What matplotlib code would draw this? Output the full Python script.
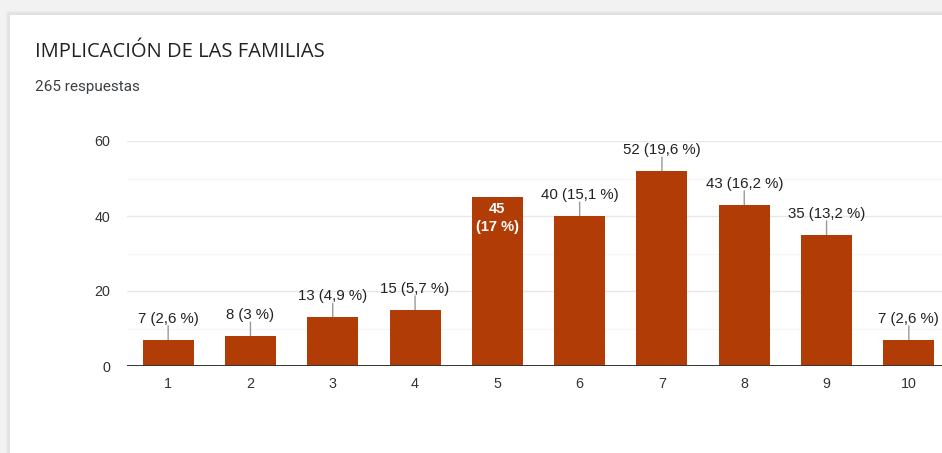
import matplotlib
matplotlib.use("Agg")
import matplotlib.pyplot as plt
from matplotlib.patches import Rectangle

categories = ["1", "2", "3", "4", "5", "6", "7", "8", "9", "10"]
counts = [7, 8, 13, 15, 45, 40, 52, 43, 35, 7]
percents = ["2,6", "3", "4,9", "5,7", "17", "15,1", "19,6", "16,2", "13,2", "2,6"]
yticks = [0, 20, 40, 60]
title = "IMPLICACIÓN DE LAS FAMILIAS"
subtitle = "265 respuestas"

plt.rcParams['font.family'] = ['Liberation Sans', 'DejaVu Sans']

W, H = 942, 453
fig = plt.figure(figsize=(W / 100, H / 100), dpi=100)
fig.patch.set_facecolor('#f2f2f2')

# card with soft shadow
for i, c in enumerate(['#ececec', '#e6e6e6', '#e2e2e2']):
    d = 3 - i
    fig.patches.append(Rectangle(((9 - d) / W, 0), 1, (H - 14 + d) / H,
                                 transform=fig.transFigure, facecolor=c,
                                 edgecolor='none', zorder=-10))
fig.patches.append(Rectangle((10 / W, 0), 1, (H - 15) / H, transform=fig.transFigure,
                             facecolor='white', edgecolor='none', zorder=-9))

fig.text(35 / W, 1 - 52 / H, title, fontsize=14.5, color='#202124', va='center', ha='left',
         family=['Open Sans', 'DejaVu Sans'])
fig.text(35 / W, 1 - 87 / H, subtitle, fontsize=11, color='#3c4043', va='center', ha='left',
         family=['Roboto', 'DejaVu Sans'])

left, right = 127, 950
ytop, ybot = 141, 366
ax = fig.add_axes([left / W, (H - ybot) / H, (right - left) / W, (ybot - ytop) / H])
ax.set_facecolor('none')
x = list(range(1, len(categories) + 1))
bar_color = '#b23c05'
ax.bar(x, counts, width=0.62, color=bar_color, zorder=3)
ax.set_xlim(0.5, len(categories) + 0.5)
ax.set_ylim(0, 60)

for v in [10, 30, 50]:
    ax.axhline(v, color='#f5f5f5', lw=1, zorder=1)
for v in [20, 40, 60]:
    ax.axhline(v, color='#e8e8e8', lw=1, zorder=1)
ax.axhline(0, color='#333333', lw=1.4, zorder=4)

for s in ax.spines.values():
    s.set_visible(False)
ax.set_yticks(yticks)
ax.set_yticklabels([str(t) for t in yticks])
ax.set_xticks(x)
ax.set_xticklabels(categories)
ax.tick_params(axis='both', length=0, labelsize=10.3, labelcolor='#333333')
ax.tick_params(axis='y', pad=12)
ax.tick_params(axis='x', pad=8)

for xi, c, p in zip(x, counts, percents):
    if c == 45:
        ax.annotate(f"{c}\n({p} %)", xy=(xi, c), xytext=(0, -15), textcoords='offset points',
                    ha='center', va='center', fontsize=10.5, color='white',
                    fontweight='bold', linespacing=1.3, zorder=5)
    else:
        ax.annotate("", xy=(xi, c), xytext=(0, 10), textcoords='offset points',
                    arrowprops=dict(arrowstyle='-', color='#999999', lw=1,
                                    shrinkA=0, shrinkB=0), zorder=2)
        ax.annotate(f"{c} ({p} %)", xy=(xi, c), xytext=(0, 10), textcoords='offset points',
                    ha='center', va='bottom', fontsize=10.8, color='#222222', zorder=5)

fig.savefig('out.png', dpi=100, facecolor=fig.get_facecolor())
